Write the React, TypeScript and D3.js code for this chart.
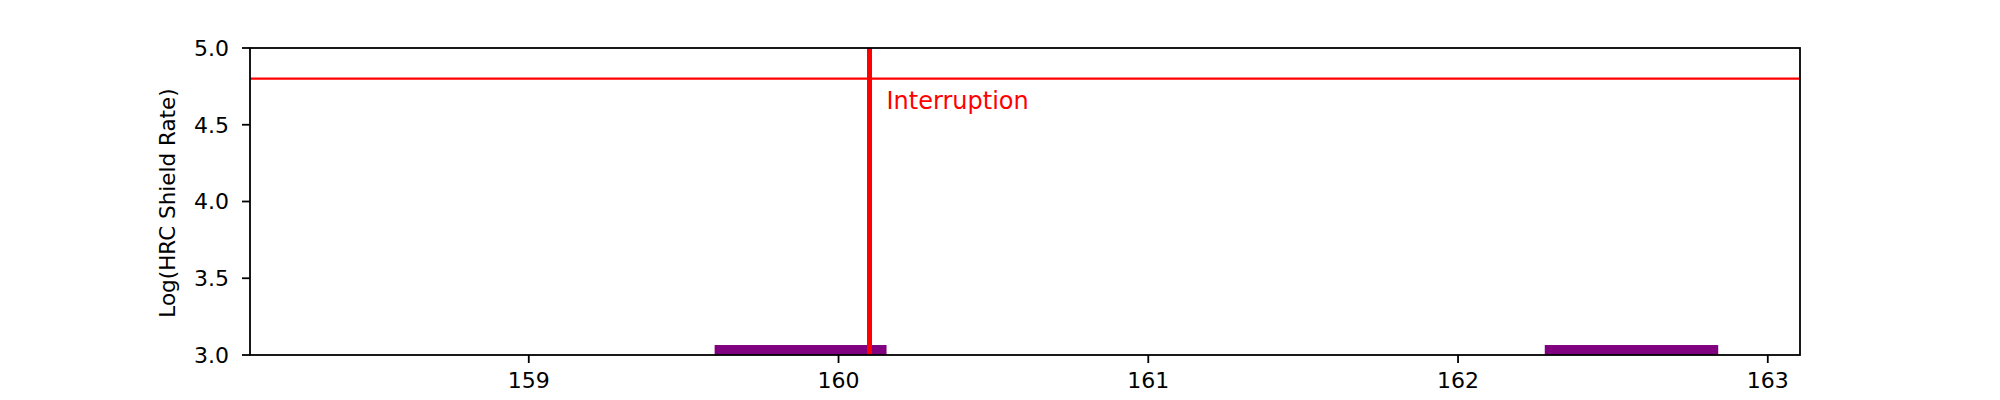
import * as d3 from 'd3';
import React from 'react';

// segments (start, end) drawn as thin bars at the bottom of the axis
const segmentStarts = [159.6, 162.28];
const segmentEnds = [160.155, 162.84];
const segmentTop = 3.065;

const interruptionX = 160.1;
const thresholdY = 4.8;
const annotation = 'Interruption';

const xTicks = [159, 160, 161, 162, 163];
const yTicks = [3.0, 3.5, 4.0, 4.5, 5.0];
const yLabel = 'Log(HRC Shield Rate)';

const width = 2000;
const height = 400;
const left = 250;
const right = 1800;
const top = 48;
const bottom = 355;

function App() {
  const x = d3.scaleLinear().domain([158.1, 163.104]).range([left, right]);
  const y = d3.scaleLinear().domain([3, 5]).range([bottom, top]);
  const font = 'DejaVu Sans, sans-serif';

  return (
    <svg width={width} height={height} style={{ position: 'absolute', left: 0, top: 0, background: '#fff' }}>
      {segmentStarts.map((s, i) => (
        <rect key={i} x={x(s)} y={y(segmentTop)} width={x(segmentEnds[i]) - x(s)}
          height={y(3) - y(segmentTop)} fill="purple" />
      ))}
      <line x1={left} x2={right} y1={y(thresholdY)} y2={y(thresholdY)} stroke="red" strokeWidth={2.2} />
      <line x1={x(interruptionX)} x2={x(interruptionX)} y1={top} y2={bottom} stroke="red" strokeWidth={5} />
      <text x={x(interruptionX) + 17} y={109} fill="red" fontSize={24} fontFamily={font}>{annotation}</text>

      <rect x={left} y={top} width={right - left} height={bottom - top} fill="none" stroke="black" strokeWidth={1.8} />

      {xTicks.map(t => (
        <g key={t}>
          <line x1={x(t)} x2={x(t)} y1={bottom} y2={bottom + 8} stroke="black" strokeWidth={1.8} />
          <text x={x(t)} y={bottom + 16} dy="0.76em" textAnchor="middle" fontSize={22} fontFamily={font}>{t}</text>
        </g>
      ))}
      {yTicks.map(t => (
        <g key={t}>
          <line x1={left - 8} x2={left} y1={y(t)} y2={y(t)} stroke="black" strokeWidth={1.8} />
          <text x={left - 21} y={y(t)} dy="0.36em" textAnchor="end" fontSize={22} fontFamily={font}>{t.toFixed(1)}</text>
        </g>
      ))}
      <text transform={`translate(175, 203) rotate(-90)`} textAnchor="middle"
        fontSize={21.5} fontFamily={font}>{yLabel}</text>
    </svg>
  );
}

export default App;
